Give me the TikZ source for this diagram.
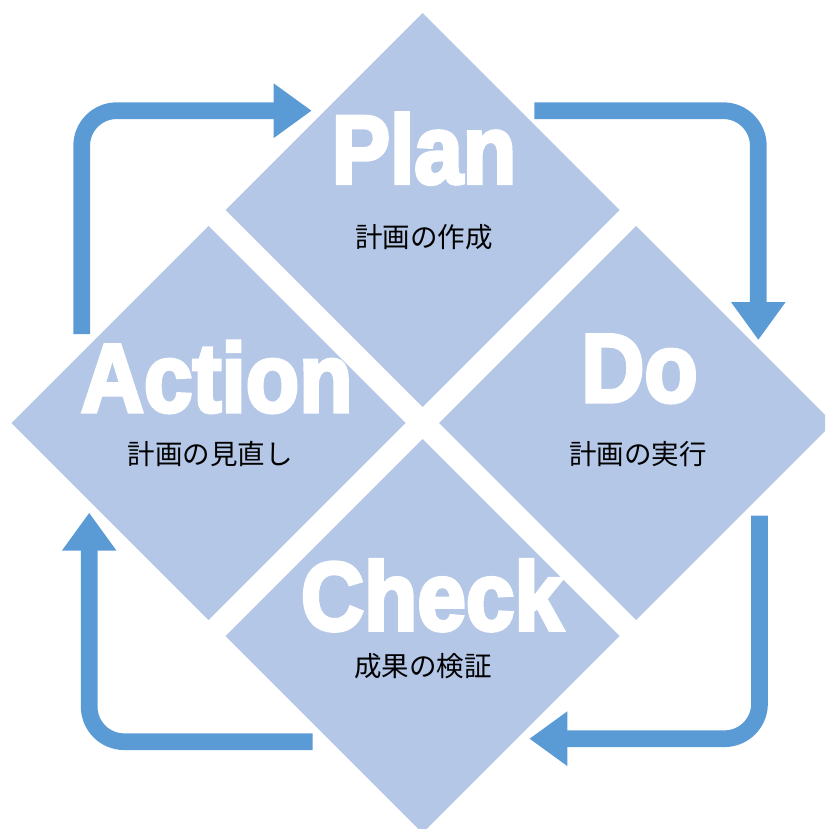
\documentclass[tikz,border=0pt]{standalone}
\usepackage{fontspec}
\usepackage{graphicx}
\usepackage{tikz}
\usetikzlibrary{shapes.geometric}
\usetikzlibrary{arrows.meta}
\newfontfamily\jpfont{Noto Sans CJK JP}
\newfontfamily\heavyfont[FakeBold=4]{Liberation Sans}
\definecolor{petalblue}{HTML}{B4C7E7}
\definecolor{turnblue}{HTML}{5B9BD5}

\begin{document}
\begin{tikzpicture}[x=1pt,y=-1pt,
	petal/.style={diamond,shape aspect=1,fill=petalblue,minimum width=394pt,minimum height=394pt,inner sep=0pt,outer sep=0pt},
	bigword/.style={anchor=base,inner sep=0pt,text=white,font=\heavyfont\bfseries\fontsize{97}{97}\selectfont},
	subword/.style={inner sep=0pt,text=black,font=\jpfont\fontsize{27.5}{30}\selectfont},
	turn/.style={line width=16.7pt,turnblue,rounded corners=35pt,-{Triangle[length=38pt,width=52pt]}}]
	\useasboundingbox (0,0) rectangle (825,829);
	\clip (0,0) rectangle (825,829);
	%
	\node[petal] (plan) at (422.5,210) {};
	\node[petal] (do) at (636,423) {};
	\node[petal] (check) at (422.5,636) {};
	\node[petal] (action) at (208.5,423) {};
	%
	\node[bigword] (plantitle) at (424,183.3) {\scalebox{0.9}[1]{Plan}};
	\node[bigword] (dotitle) at (639.5,401.7) {\scalebox{0.9}[1]{Do}};
	\node[bigword] (checktitle) at (432,630) {\scalebox{0.9}[1]{Check}};
	\node[bigword] (actiontitle) at (216.7,411.7) {\scalebox{0.9}[1]{Action}};
	%
	\node[subword] (plansub) at (424,237.5) {計画の作成};
	\node[subword] (dosub) at (638,454) {計画の実行};
	\node[subword] (checksub) at (423,666) {成果の検証};
	\node[subword] (actionsub) at (210,454) {計画の見直し};
	%
	\coordinate (action-out) at (81.7,334);
	\coordinate (plan-in) at (311.7,110.7);
	\coordinate (plan-out) at (534.3,110.7);
	\coordinate (do-in) at (758.3,340);
	\coordinate (do-out) at (759.5,515.7);
	\coordinate (check-in) at (529.3,738.7);
	\coordinate (check-out) at (312.7,741.7);
	\coordinate (action-in) at (89.2,512.7);
	%
	\draw[turn] (action-out) |- (plan-in);
	\draw[turn] (plan-out) -| (do-in);
	\draw[turn] (do-out) |- (check-in);
	\draw[turn] (check-out) -| (action-in);
\end{tikzpicture}
\end{document}
